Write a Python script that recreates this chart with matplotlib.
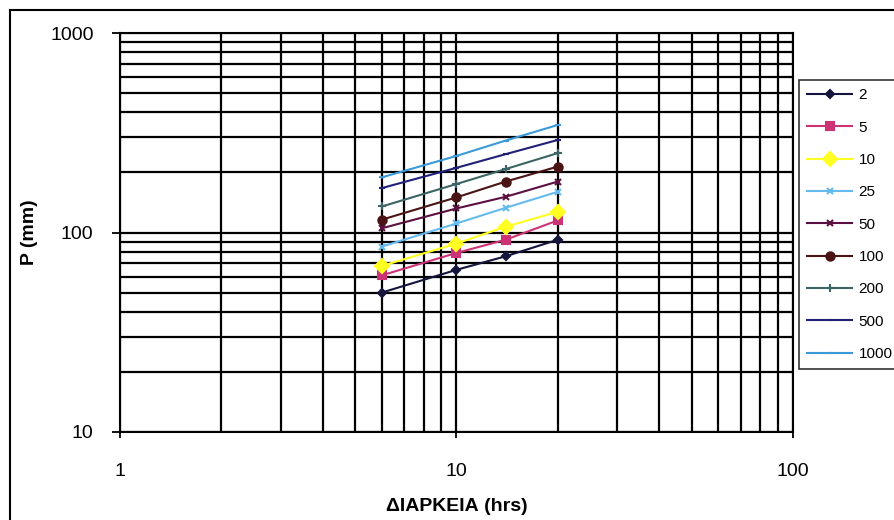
import matplotlib
matplotlib.use("Agg")
import matplotlib.pyplot as plt
from matplotlib.lines import Line2D
from matplotlib.ticker import LogLocator, NullFormatter, FixedLocator

plt.rcParams['font.family'] = ['Liberation Sans', 'DejaVu Sans']

# durations (hrs) and rainfall depth P (mm) per return period
durations = [6, 10, 14, 20]
return_periods = ['2', '5', '10', '25', '50', '100', '200', '500', '1000']
p_2 = [50, 65, 76, 92]
p_5 = [61, 79, 92, 115]
p_10 = [68, 88, 107, 127]
p_25 = [85, 111, 133, 160]
p_50 = [105, 132, 151, 180]
p_100 = [116, 150, 180, 214]
p_200 = [135, 175, 208, 250]
p_500 = [167, 211, 247, 291]
p_1000 = [189, 242, 289, 346]
series = [p_2, p_5, p_10, p_25, p_50, p_100, p_200, p_500, p_1000]

colors = ['#14143c', '#cc3377', '#ffff22', '#66bbee', '#5a1040',
          '#4a1414', '#3c6464', '#202078', '#3a9ad8']
markers = ['D', 's', 'D', 'x', 'x', 'o', '+', '_', '_']
msizes = [4, 6, 7, 4, 4, 6, 6, 5, 5]

fig = plt.figure(figsize=(8.95, 5.2), dpi=100)
ax = fig.add_axes([120 / 895, 1 - 432 / 520, (793 - 120) / 895, (432 - 33) / 520])

for vals, lab, c, m, ms in zip(series, return_periods, colors, markers, msizes):
    ax.plot(durations, vals, color=c, lw=1.5, marker=m, ms=ms,
            mec=c, mfc=c, mew=1.5, label=lab, zorder=3)

ax.set_xscale('log')
ax.set_yscale('log')
ax.set_xlim(1, 100)
ax.set_ylim(10, 1000)

ax.xaxis.set_major_locator(FixedLocator([1, 10, 100]))
ax.yaxis.set_major_locator(FixedLocator([10, 100, 1000]))
ax.set_xticklabels(['1', '10', '100'])
ax.set_yticklabels(['10', '100', '1000'])
ax.xaxis.set_minor_locator(LogLocator(base=10, subs=range(2, 10)))
ax.yaxis.set_minor_locator(LogLocator(base=10, subs=range(2, 10)))
ax.xaxis.set_minor_formatter(NullFormatter())
ax.yaxis.set_minor_formatter(NullFormatter())

ax.grid(True, which='both', color='black', lw=1.6, zorder=1)
ax.set_axisbelow(True)
ax.tick_params(axis='x', which='major', direction='inout', length=8, width=1.3,
               labelsize=14, pad=18)
ax.tick_params(axis='y', which='major', direction='out', length=6, width=1.3,
               labelsize=14, pad=13)
ax.tick_params(which='minor', length=0)
for s in ax.spines.values():
    s.set_linewidth(1.5)
    s.set_color('black')

ax.set_xlabel('ΔΙΑΡΚΕΙΑ (hrs)', fontsize=14, fontweight='bold', labelpad=13)
ax.set_ylabel('P (mm)', fontsize=14, fontweight='bold', labelpad=9)

leg = ax.legend(loc='upper left', bbox_to_anchor=(799 / 895, 1 - 80 / 520),
                bbox_transform=fig.transFigure, frameon=True, fancybox=False,
                fontsize=11, handlelength=2.9, labelspacing=1.2,
                borderpad=0.55, handletextpad=0.45, borderaxespad=0)
leg.get_frame().set_edgecolor('black')
leg.get_frame().set_linewidth(1.2)

# outer chart border (left and top edges only; the rest is cut off)
fig.add_artist(Line2D([10 / 895, 10 / 895], [0, 1 - 10 / 520], transform=fig.transFigure,
                      color='black', lw=1.5))
fig.add_artist(Line2D([10 / 895, 1], [1 - 10 / 520, 1 - 10 / 520], transform=fig.transFigure,
                      color='black', lw=1.5))

fig.savefig('out.png', dpi=100)
